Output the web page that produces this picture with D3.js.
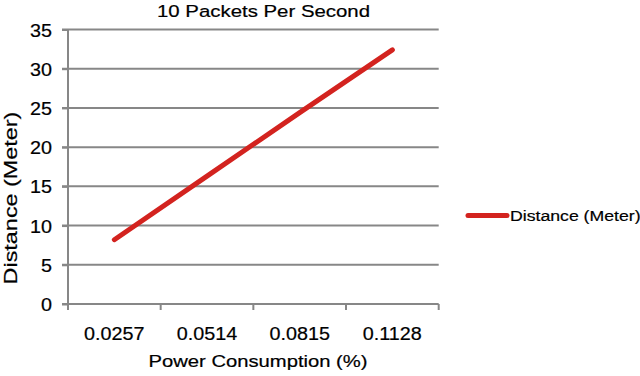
<!DOCTYPE html>
<html>
<head>
<meta charset="utf-8">
<script src="https://cdn.jsdelivr.net/npm/d3@7"></script>
<style>
  body { margin: 0; background: #fff; }
  svg { display: block; }
  text { font-family: "Liberation Sans", Arial, sans-serif; fill: #000; stroke: #000; stroke-width: 0.2px; }
</style>
</head>
<body>
<svg id="chart" width="640" height="376"></svg>
<script>
// data
var categories = ["0.0257", "0.0514", "0.0815", "0.1128"];
var distance = [8.2, 16.3, 24.4, 32.4];
var yTicks = [0, 5, 10, 15, 20, 25, 30, 35];
var seriesName = "Distance (Meter)";

var gridColor = "#878787";
var lineColor = "#d3231f";
var tickStretch = 1.13; // glyphs in the original are rendered a bit wide

var svg = d3.select("#chart");
// plot area edges (note: "top" would clash with window.top)
var plotLeft = 68, plotRight = 438.7, plotTop = 29.5, plotBottom = 304;

var x = d3.scaleBand().domain(categories).range([plotLeft, plotRight]);
var y = d3.scaleLinear().domain([0, 35]).range([plotBottom, plotTop]);

// gridlines
svg.append("g")
  .selectAll("line")
  .data(yTicks.filter(d => d > 0))
  .enter()
  .append("line")
  .attr("x1", plotLeft - 6)
  .attr("x2", plotRight)
  .attr("y1", d => y(d))
  .attr("y2", d => y(d))
  .attr("stroke", gridColor)
  .attr("stroke-width", 2);

// y axis
var yAxis = svg.append("g")
  .attr("transform", `translate(${plotLeft},0)`)
  .call(d3.axisLeft(y).tickValues(yTicks).tickSize(6).tickSizeOuter(0));
yAxis.select(".domain").remove();
yAxis.selectAll(".tick line").attr("stroke", gridColor).attr("stroke-width", 2);
yAxis.append("line")
  .attr("x1", 0).attr("x2", 0)
  .attr("y1", plotTop).attr("y2", plotBottom + 6)
  .attr("stroke", gridColor).attr("stroke-width", 2);
yAxis.selectAll(".tick text")
  .attr("x", 0).attr("dy", 0)
  .attr("transform", `translate(-16,6.5) scale(${tickStretch},1)`)
  .style("font-size", "17.5px")
  .attr("fill", "#000");

// x axis
var xAxis = svg.append("g")
  .attr("transform", `translate(0,${plotBottom})`)
  .call(d3.axisBottom(x).tickSize(0));
xAxis.select(".domain").remove();
xAxis.append("line")
  .attr("x1", plotLeft - 6).attr("x2", plotRight)
  .attr("y1", 0).attr("y2", 0)
  .attr("stroke", gridColor).attr("stroke-width", 2);
// ticks sit on the category boundaries
xAxis.selectAll(".bound")
  .data(categories.concat(["end"]))
  .enter()
  .append("line")
  .attr("class", "bound")
  .attr("x1", (d, i) => plotLeft + i * x.step())
  .attr("x2", (d, i) => plotLeft + i * x.step())
  .attr("y1", 0).attr("y2", 6)
  .attr("stroke", gridColor).attr("stroke-width", 2);
xAxis.selectAll(".tick text")
  .attr("y", 0).attr("dy", 0)
  .attr("transform", `translate(0,35.5) scale(${tickStretch},1)`)
  .style("font-size", "17.5px")
  .attr("fill", "#000");

// the series
var line = d3.line()
  .x((d, i) => x(categories[i]) + x.bandwidth() / 2)
  .y(d => y(d));

svg.append("path")
  .datum(distance)
  .attr("d", line)
  .attr("fill", "none")
  .attr("stroke", lineColor)
  .attr("stroke-width", 5)
  .attr("stroke-linecap", "round");

// titles
function stretchedText(tx, ty, rot, str, size, sx) {
  svg.append("text")
    .attr("transform", `translate(${tx},${ty}) rotate(${rot}) scale(${sx},1)`)
    .attr("text-anchor", "middle")
    .style("font-size", size + "px")
    .text(str);
}
stretchedText(263.5, 17, 0, "10 Packets Per Second", 17, 1.2);
stretchedText(258, 367, 0, "Power Consumption (%)", 17, 1.19);
stretchedText(17, 198, -90, "Distance (Meter)", 18, 1.3);

// legend
var legend = svg.append("g").attr("transform", "translate(468,215.5)");
legend.append("line")
  .attr("x1", 0).attr("x2", 39)
  .attr("y1", 0).attr("y2", 0)
  .attr("stroke", lineColor)
  .attr("stroke-width", 5)
  .attr("stroke-linecap", "round");
legend.append("text")
  .attr("transform", `translate(42,5.5) scale(1.14,1)`)
  .style("font-size", "15.5px")
  .text(seriesName);
</script>
</body>
</html>
